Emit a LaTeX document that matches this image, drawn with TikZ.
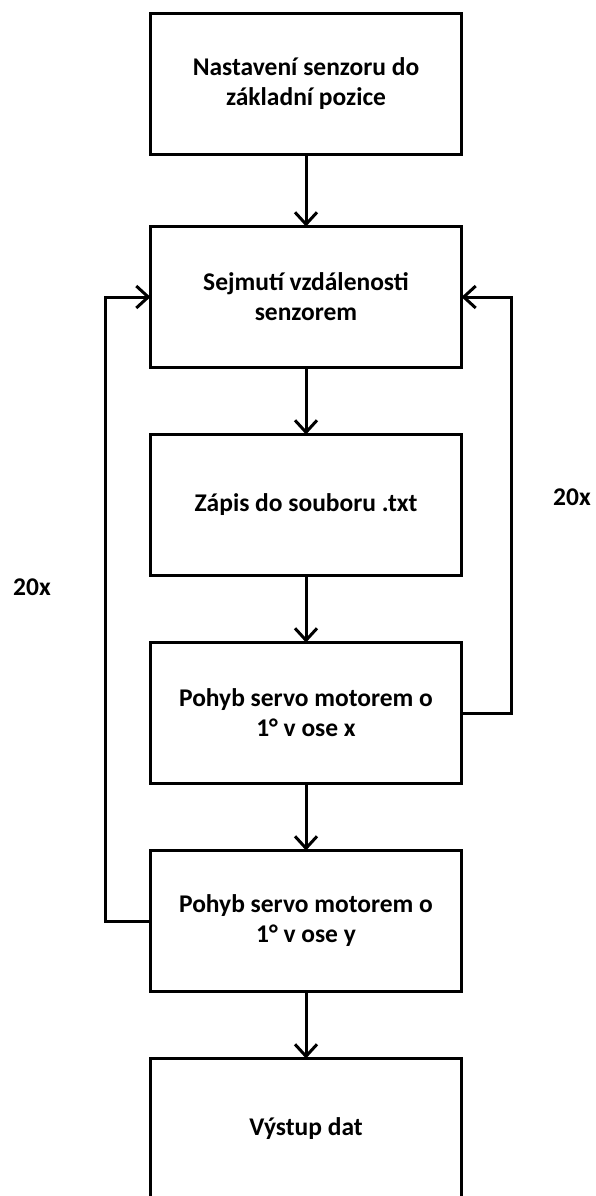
\documentclass[tikz,border=0pt]{standalone}
\usepackage{fontspec}
\setmainfont{Carlito}
\usetikzlibrary{positioning, arrows.meta}

\begin{document}
\begin{tikzpicture}[x=1pt, y=1pt, >={Straight Barb[length=12pt, width=22pt]},
    font=\fontsize{25.5}{30}\selectfont\bfseries,
    stepbox/.style={draw, line width=3pt, outer sep=0pt, minimum width=311pt, minimum height=141pt, align=center, inner sep=0pt},
    flow/.style={->, line width=3pt}]
  \useasboundingbox (0,0) rectangle (595,-1196);
  % main steps
  \node[stepbox] (init) at (306,-84) {Nastavení senzoru do\\základní pozice};
  \node[stepbox, below=72pt of init] (scan) {Sejmutí vzdálenosti\\senzorem};
  \node[stepbox, below=67pt of scan] (save) {Zápis do souboru .txt};
  \node[stepbox, below=67pt of save] (movex) {Pohyb servo motorem o\\1° v ose x};
  \node[stepbox, below=67pt of movex] (movey) {Pohyb servo motorem o\\1° v ose y};
  \node[stepbox, below=67pt of movey] (out) {Výstup dat};
  % loop counts
  \node (cntx) at (572,-497) {20x};
  \node (cnty) at (32,-587) {20x};
  % arrows
  \draw[flow] (init) -- (scan);
  \draw[flow] (scan) -- (save);
  \draw[flow] (save) -- (movex);
  \draw[flow] (movex) -- (movey);
  \draw[flow] (movey) -- (out);
  \draw[flow] (movex.east) -- ++(50,0) |- (scan.east);
  \draw[flow] (movey.west) -- ++(-45,0) |- (scan.west);
\end{tikzpicture}
\end{document}
